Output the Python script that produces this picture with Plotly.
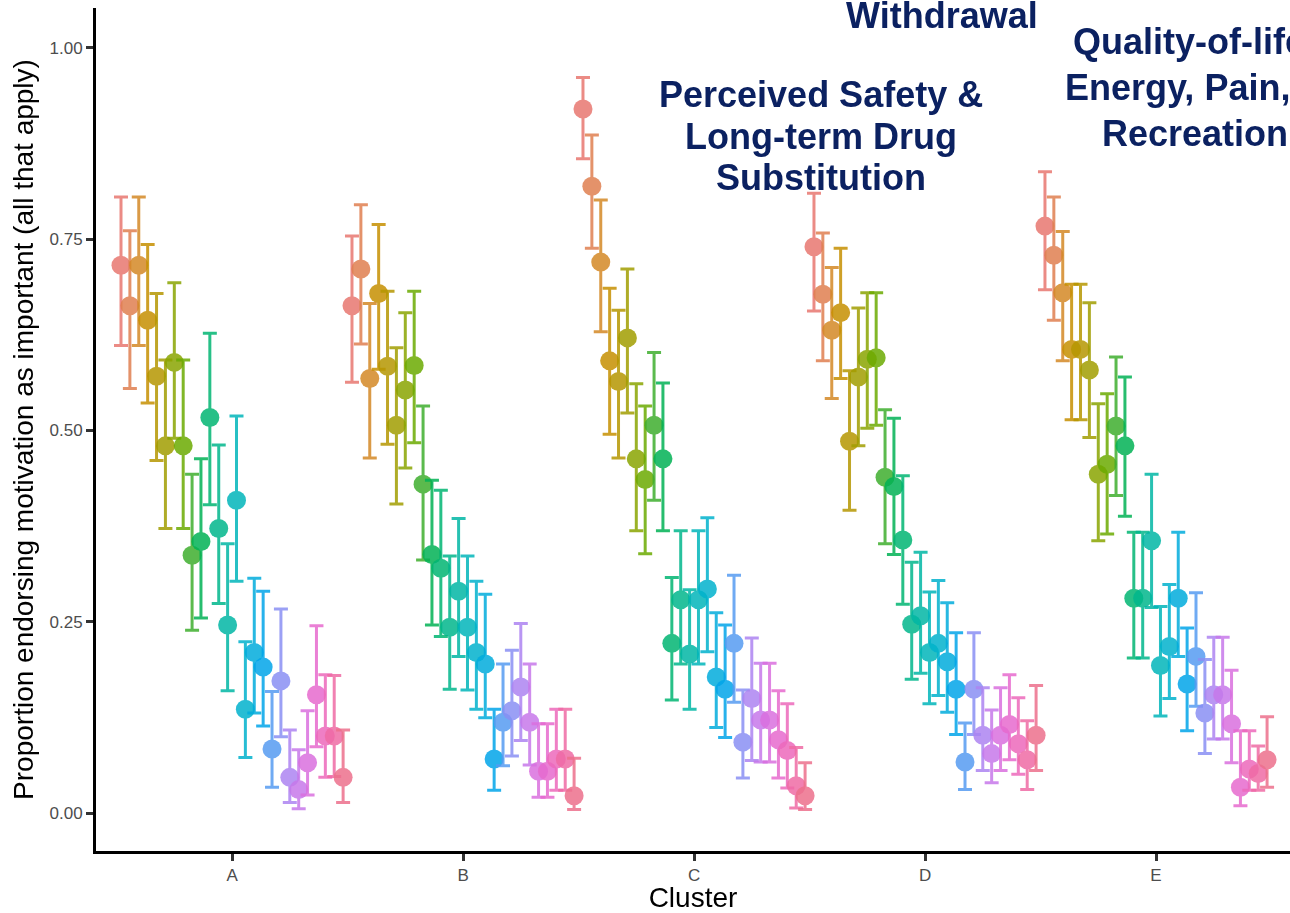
import math
import plotly.graph_objects as go

# ---------------- data ----------------
clusters = ["A", "B", "C", "D", "E"]
n_motivations = 26
motivations = [f"Motivation {i + 1}" for i in range(n_motivations)]

prop_A = [0.716, 0.663, 0.716, 0.644, 0.571, 0.480, 0.589, 0.480, 0.337, 0.355, 0.517, 0.372, 0.246,
          0.409, 0.136, 0.210, 0.191, 0.084, 0.173, 0.047, 0.031, 0.066, 0.155, 0.101, 0.101, 0.047]
hi_A = [0.805, 0.761, 0.805, 0.743, 0.679, 0.592, 0.693, 0.592, 0.443, 0.463, 0.627, 0.481, 0.352,
        0.519, 0.224, 0.307, 0.290, 0.159, 0.267, 0.109, 0.083, 0.134, 0.245, 0.181, 0.180, 0.109]
lo_A = [0.611, 0.555, 0.611, 0.536, 0.461, 0.372, 0.490, 0.372, 0.239, 0.255, 0.403, 0.274, 0.160,
        0.303, 0.073, 0.131, 0.114, 0.034, 0.100, 0.014, 0.006, 0.024, 0.087, 0.047, 0.048, 0.014]

prop_B = [0.663, 0.711, 0.568, 0.679, 0.584, 0.507, 0.553, 0.585, 0.430, 0.338, 0.320, 0.243, 0.290,
          0.243, 0.210, 0.195, 0.071, 0.119, 0.134, 0.165, 0.119, 0.055, 0.055, 0.071, 0.071, 0.023]
hi_B = [0.754, 0.795, 0.666, 0.769, 0.682, 0.608, 0.654, 0.682, 0.532, 0.435, 0.422, 0.336, 0.385,
        0.336, 0.303, 0.286, 0.136, 0.195, 0.213, 0.248, 0.195, 0.117, 0.117, 0.136, 0.136, 0.072]
lo_B = [0.563, 0.613, 0.464, 0.580, 0.482, 0.404, 0.451, 0.484, 0.331, 0.246, 0.231, 0.162, 0.205,
        0.161, 0.136, 0.125, 0.030, 0.062, 0.075, 0.095, 0.063, 0.021, 0.021, 0.030, 0.030, 0.005]

prop_C = [0.920, 0.819, 0.720, 0.591, 0.564, 0.621, 0.463, 0.436, 0.507, 0.463, 0.222, 0.279, 0.208,
          0.279, 0.293, 0.178, 0.162, 0.222, 0.093, 0.150, 0.122, 0.122, 0.096, 0.082, 0.036, 0.023]
hi_C = [0.961, 0.886, 0.801, 0.686, 0.657, 0.711, 0.561, 0.532, 0.602, 0.562, 0.308, 0.369, 0.292,
        0.369, 0.386, 0.262, 0.246, 0.311, 0.161, 0.229, 0.196, 0.196, 0.160, 0.143, 0.086, 0.066]
lo_C = [0.855, 0.738, 0.629, 0.495, 0.464, 0.523, 0.369, 0.339, 0.409, 0.369, 0.148, 0.195, 0.136,
        0.195, 0.211, 0.112, 0.099, 0.145, 0.046, 0.069, 0.067, 0.067, 0.046, 0.033, 0.007, 0.005]

prop_D = [0.740, 0.678, 0.631, 0.654, 0.486, 0.570, 0.593, 0.595, 0.439, 0.427, 0.357, 0.247, 0.258,
          0.210, 0.222, 0.198, 0.162, 0.067, 0.162, 0.102, 0.078, 0.102, 0.116, 0.091, 0.070, 0.102]
hi_D = [0.810, 0.758, 0.713, 0.738, 0.578, 0.660, 0.680, 0.680, 0.527, 0.516, 0.441, 0.328, 0.341,
        0.289, 0.304, 0.275, 0.236, 0.118, 0.236, 0.164, 0.135, 0.164, 0.181, 0.151, 0.121, 0.167]
lo_D = [0.656, 0.591, 0.542, 0.568, 0.396, 0.480, 0.503, 0.507, 0.352, 0.338, 0.273, 0.175, 0.183,
        0.143, 0.154, 0.132, 0.103, 0.031, 0.103, 0.056, 0.040, 0.056, 0.070, 0.051, 0.031, 0.056]

prop_E = [0.767, 0.729, 0.680, 0.606, 0.606, 0.579, 0.443, 0.456, 0.506, 0.480, 0.281, 0.281, 0.356,
          0.193, 0.218, 0.281, 0.169, 0.205, 0.131, 0.155, 0.155, 0.117, 0.034, 0.058, 0.052, 0.070]
hi_E = [0.838, 0.805, 0.760, 0.691, 0.691, 0.667, 0.535, 0.548, 0.596, 0.570, 0.367, 0.367, 0.443,
        0.270, 0.299, 0.367, 0.242, 0.288, 0.201, 0.230, 0.230, 0.187, 0.108, 0.108, 0.088, 0.126]
lo_E = [0.684, 0.644, 0.591, 0.514, 0.514, 0.491, 0.356, 0.365, 0.415, 0.388, 0.203, 0.203, 0.269,
        0.127, 0.150, 0.205, 0.108, 0.140, 0.078, 0.097, 0.097, 0.066, 0.010, 0.030, 0.030, 0.034]

props = [prop_A, prop_B, prop_C, prop_D, prop_E]
his = [hi_A, hi_B, hi_C, hi_D, hi_E]
los = [lo_A, lo_B, lo_C, lo_D, lo_E]

y_ticks = [0.0, 0.25, 0.5, 0.75, 1.0]
y_tick_labels = ["0.00", "0.25", "0.50", "0.75", "1.00"]

x_title = "Cluster"
y_title = "Proportion endorsing motivation as important (all that apply)"

# annotation texts (one entry per line) and their anchor positions
annotations_text = [
    ("Withdrawal", 3.074, 1.042),
    ("Perceived Safety &", 2.55, 0.9386),
    ("Long-term Drug", 2.55, 0.8847),
    ("Substitution", 2.55, 0.8311),
    ("Quality-of-life:", 4.169, 1.008),
    ("Energy, Pain, &", 4.169, 0.9487),
    ("Recreation", 4.169, 0.8886),
]


# ---------------- colours: ggplot2-style hue palette ----------------
def hcl_hex(h, c=100.0, l=65.0):
    wx, wy, wz = 95.047, 100.0, 108.883
    hr = math.radians(h)
    U = c * math.cos(hr)
    V = c * math.sin(hr)
    Y = wy * (((l + 16.0) / 116.0) ** 3 if l > 7.999592 else l / 903.3)
    t = wx + wy + wz
    x = wx / t
    y = wy / t
    uN = 2.0 * x / (6.0 * y - x + 1.5)
    vN = 4.5 * y / (6.0 * y - x + 1.5)
    u = U / (13.0 * l) + uN
    v = V / (13.0 * l) + vN
    X = 9.0 * Y * u / (4.0 * v)
    Z = -X / 3.0 - 5.0 * Y + 3.0 * Y / v

    def gtrans(val):
        if val > 0.00304:
            return 1.055 * val ** (1.0 / 2.4) - 0.055
        return 12.92 * val

    r = gtrans((3.240479 * X - 1.537150 * Y - 0.498535 * Z) / wy)
    g = gtrans((-0.969256 * X + 1.875992 * Y + 0.041556 * Z) / wy)
    b = gtrans((0.055648 * X - 0.204043 * Y + 1.057311 * Z) / wy)
    rgb = [min(1.0, max(0.0, ch)) for ch in (r, g, b)]
    return "#" + "".join(f"{int(round(ch * 255)):02X}" for ch in rgb)


hue_step = 360.0 / n_motivations
colors = [hcl_hex(15.0 + i * hue_step, c=85.0, l=63.0) for i in range(n_motivations)]

# ---------------- figure ----------------
fig = go.Figure()
for i in range(n_motivations):
    yv = [props[k][i] for k in range(len(clusters))]
    up = [his[k][i] - props[k][i] for k in range(len(clusters))]
    dn = [props[k][i] - los[k][i] for k in range(len(clusters))]
    fig.add_trace(go.Scatter(
        x=clusters, y=yv, name=motivations[i], mode="markers",
        offsetgroup=str(i),
        marker=dict(color=colors[i], size=19, line=dict(width=0)),
        error_y=dict(type="data", symmetric=False, array=up, arrayminus=dn,
                     color=colors[i], thickness=3, width=7),
        opacity=0.85, showlegend=False, cliponaxis=False,
    ))

navy = "#0B2161"
for txt, xa, ya in annotations_text:
    fig.add_annotation(
        x=xa, y=ya, xref="x", yref="y", text=f"<b>{txt}</b>", showarrow=False,
        xanchor="center", yanchor="middle",
        font=dict(family="Liberation Sans, Arial, sans-serif", size=36, color=navy),
    )

fig.update_layout(
    width=1290, height=913,
    margin=dict(l=96, r=0, t=8, b=62),
    paper_bgcolor="white", plot_bgcolor="white",
    scattermode="group", scattergap=0,
    font=dict(family="Liberation Sans, Arial, sans-serif"),
    showlegend=False,
)
fig.update_xaxes(
    type="category", categoryorder="array", categoryarray=clusters,
    range=[-0.589, 4.58],
    showline=True, linecolor="black", linewidth=3,
    ticks="outside", ticklen=7, tickwidth=2.5, tickcolor="#333333",
    tickfont=dict(size=17, color="#4D4D4D"),
    showgrid=False, zeroline=False,
    title=dict(text=x_title, font=dict(size=28, color="black"), standoff=8),
)
fig.update_yaxes(
    range=[-0.0492, 1.0519],
    tickvals=y_ticks, ticktext=y_tick_labels,
    showline=True, linecolor="black", linewidth=3,
    ticks="outside", ticklen=7, tickwidth=2.5, tickcolor="#333333",
    tickfont=dict(size=17, color="#4D4D4D"),
    showgrid=False, zeroline=False,
    title=dict(text=y_title, font=dict(size=28, color="black"), standoff=8),
)

fig.write_html(
    "out.html",
    config={"displayModeBar": False},
    post_script="document.body.style.margin='0px'; document.body.style.overflow='hidden';",
)
